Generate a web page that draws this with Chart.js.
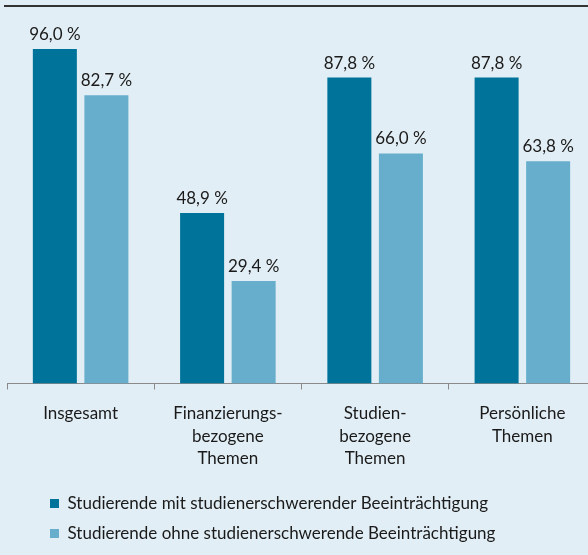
<!DOCTYPE html>
<html><head><meta charset="utf-8">
<script src="https://cdn.jsdelivr.net/npm/chart.js@4.4.1/dist/chart.umd.min.js"></script>
<style>
html,body{margin:0;padding:0;background:#e2eef5;overflow:hidden;}
#wrap{position:relative;width:588px;height:555px;overflow:hidden;background:#e2eef5;}
#topline{position:absolute;left:4px;right:0;top:5px;height:0;border-top:2px solid #333;}
#c{position:absolute;left:0;top:0;}
</style></head><body>
<div id="wrap"><canvas id="c" width="600" height="555" style="width:600px;height:555px"></canvas><div id="topline"></div></div>
<script>
const categories = [["Insgesamt"], ["Finanzierungs-", "bezogene", "Themen"], ["Studien-", "bezogene", "Themen"], ["Persönliche", "Themen"]];
const seriesNames = ["Studierende mit studienerschwerender Beeinträchtigung", "Studierende ohne studienerschwerende Beeinträchtigung"];
const withImpairment = [96.0, 48.9, 87.8, 87.8];
const withoutImpairment = [82.7, 29.4, 66.0, 63.8];
const seriesColors = ["#00739a", "#66aecb"];

const FONT = "Lato, 'Open Sans', sans-serif";
const fmt = v => v.toFixed(1).replace('.', ',') + ' %';

const valueLabels = {
  id: 'valueLabels',
  afterDatasetsDraw(chart) {
    const ctx = chart.ctx;
    ctx.save();
    ctx.font = "17px " + FONT;
    ctx.fillStyle = "#1a1a1a";
    ctx.textAlign = "center";
    ctx.textBaseline = "alphabetic";
    chart.data.datasets.forEach((ds, i) => {
      chart.getDatasetMeta(i).data.forEach((bar, j) => {
        ctx.fillText(fmt(ds.data[j]), bar.x, bar.y - 9);
      });
    });
    ctx.restore();
  }
};

const shiftLegend = {
  id: 'shiftLegend',
  afterLayout(chart) {
    const lg = chart.legend;
    if (lg) { lg.left += 30; lg.right += 30; lg.top -= 3; lg.bottom -= 3; }
  }
};

new Chart(document.getElementById('c'), {
  type: 'bar',
  data: {
    labels: categories,
    datasets: [
      { label: seriesNames[0], data: withImpairment, backgroundColor: seriesColors[0] },
      { label: seriesNames[1], data: withoutImpairment, backgroundColor: seriesColors[1] }
    ]
  },
  options: {
    responsive: false,
    animation: false,
    devicePixelRatio: 1,
    layout: { padding: { left: 7, right: 4, top: 35, bottom: 0 } },
    datasets: { bar: { categoryPercentage: 0.70, barPercentage: 0.854 } },
    scales: {
      x: {
        grid: { offset: true, drawOnChartArea: false, tickLength: 6, color: '#8a8a8a' },
        border: { color: '#8a8a8a', width: 1 },
        ticks: { color: '#1a1a1a', font: { family: FONT, size: 17, lineHeight: 1.32 }, padding: 13, maxRotation: 0, autoSkip: false },
        afterFit(s) { s.height = 101.5; }
      },
      y: { display: false, min: 0, max: 100 }
    },
    plugins: {
      legend: {
        position: 'bottom',
        align: 'start',
        labels: { boxWidth: 9, boxHeight: 9, padding: 13, color: '#1a1a1a', font: { family: FONT, size: 17 } }
      },
      tooltip: { enabled: false }
    }
  },
  plugins: [valueLabels, shiftLegend]
});
</script>
</body></html>
